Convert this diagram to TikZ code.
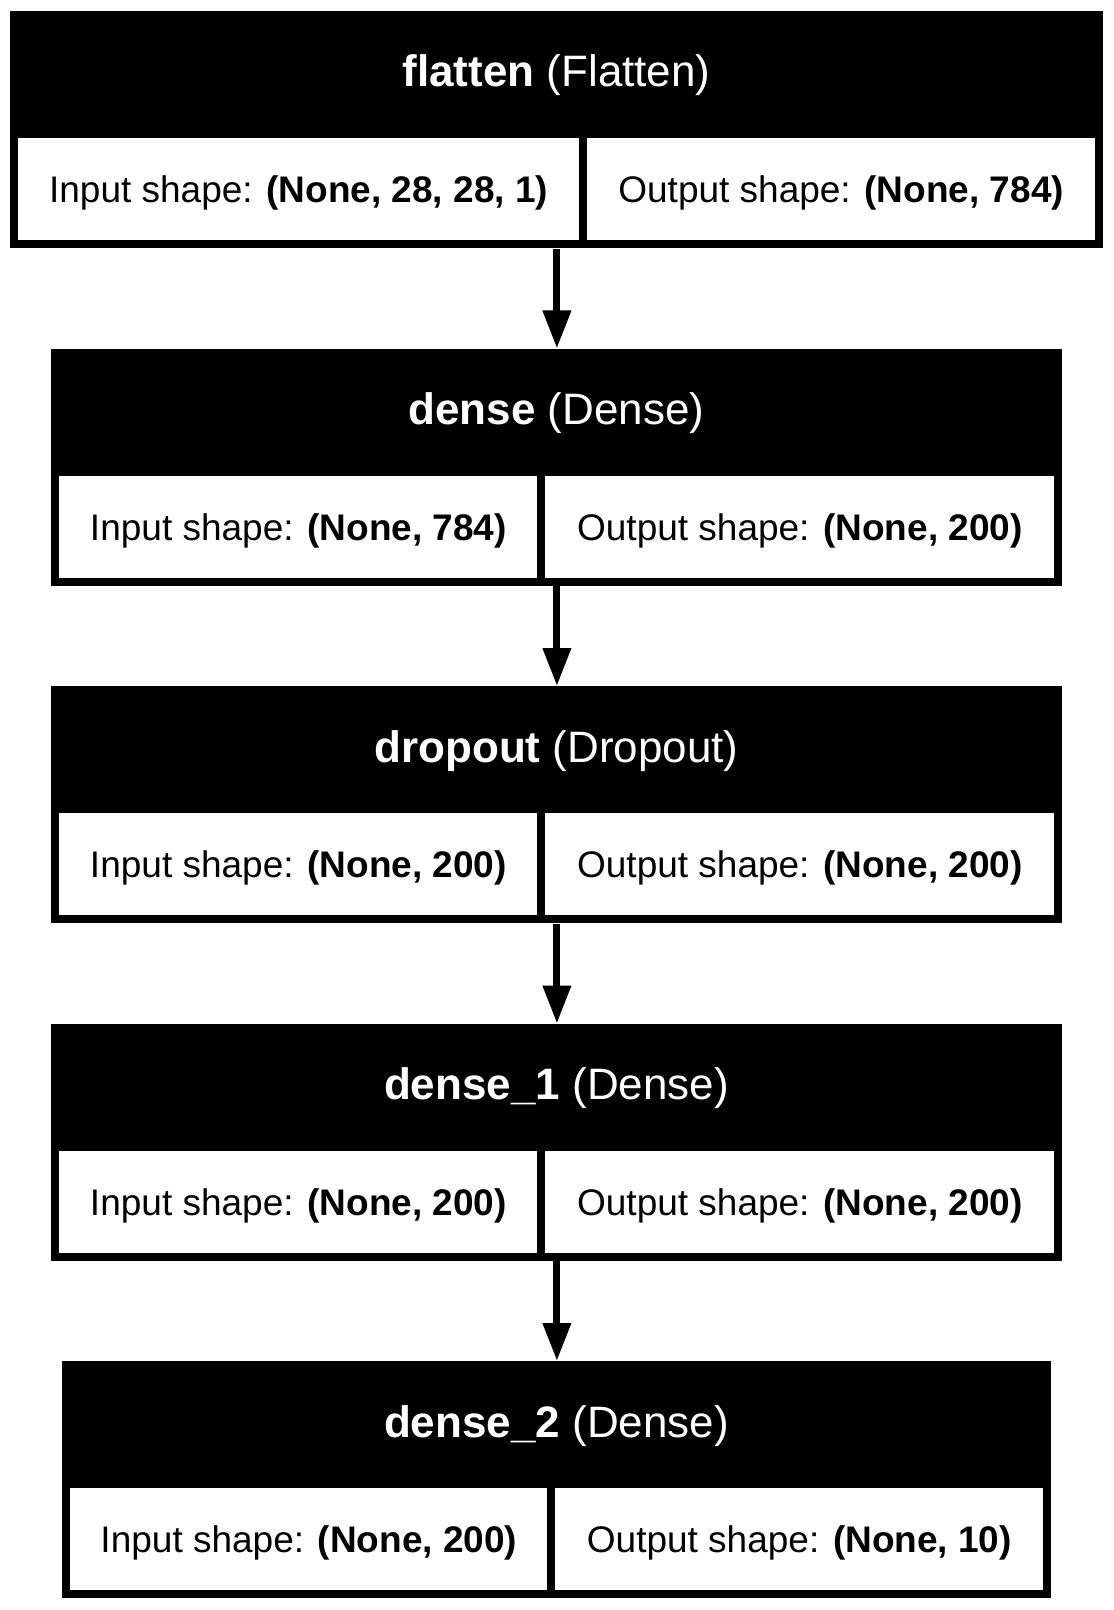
\documentclass[tikz,border=0pt]{standalone}
\usepackage{fontspec}
\setmainfont{Liberation Sans}
\usetikzlibrary{arrows.meta}
\tikzset{
  outerbox/.style={fill=black, draw=none, inner sep=0pt, minimum height=118.5pt},
  titletext/.style={text=white, inner sep=0pt, font=\fontsize{22pt}{26pt}\selectfont},
  cell/.style={fill=white, draw=none, inner sep=0pt, minimum height=51pt, text=black,
    text height=13.25pt, text depth=0pt, font=\fontsize{18.5pt}{22pt}\selectfont},
  arr/.style={line width=3.5pt, -{Triangle[length=19pt, width=13.5pt]}}
}
\newcommand\kerasbox[9]{%
  \node[outerbox, minimum width={(#4-#3)*0.5pt}, anchor=north west] (#1) at (#3,#2) {};
  \node[titletext, anchor=base] (#1t) at ({(#3+#4)/2},{#2+76}) {\textbf{#6} #7};
  \node[cell, minimum width={(#5-4-#3-8)*0.5pt}, anchor=north west] (#1i) at ({#3+8},{#2+127}) {Input shape: \textbf{#8}};
  \node[cell, minimum width={(#4-8-#5-4)*0.5pt}, anchor=north west] (#1o) at ({#5+4},{#2+127}) {Output shape: \textbf{#9}};
}
\begin{document}
\begin{tikzpicture}[x=0.5pt,y=-0.5pt]
\useasboundingbox[fill=white] (0,0) rectangle (1113,1610);
\kerasbox{b1}{11}{10}{1103}{582.5}{flatten}{(Flatten)}{(None, 28, 28, 1)}{(None, 784)}
\kerasbox{b2}{348.5}{51}{1062}{541}{dense}{(Dense)}{(None, 784)}{(None, 200)}
\kerasbox{b3}{686}{51}{1062}{541}{dropout}{(Dropout)}{(None, 200)}{(None, 200)}
\kerasbox{b4}{1023.5}{51}{1062}{541}{dense\_1}{(Dense)}{(None, 200)}{(None, 200)}
\kerasbox{b5}{1361}{62}{1051}{551}{dense\_2}{(Dense)}{(None, 200)}{(None, 10)}
\draw[arr] (b1.south) -- (b2.north);
\draw[arr] (b2.south) -- (b3.north);
\draw[arr] (b3.south) -- (b4.north);
\draw[arr] (b4.south) -- (b5.north);
\end{tikzpicture}
\end{document}
